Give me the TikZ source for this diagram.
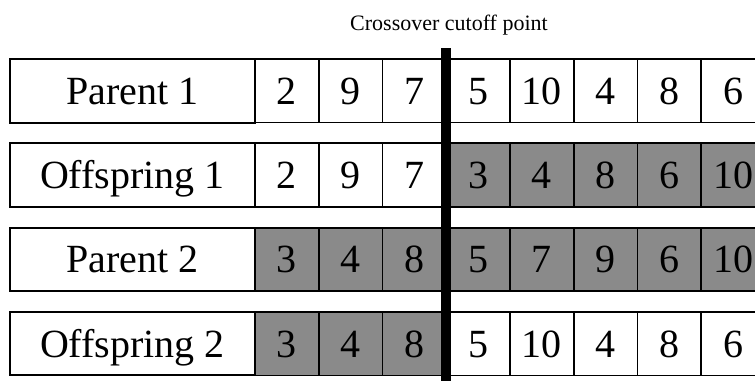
\documentclass[tikz,border=0pt]{standalone}
\usepackage{fontspec}
\setmainfont{Liberation Serif}
\newfontfamily\timesfont{Liberation Serif}
\definecolor{cellgray}{RGB}{138,138,138}
\tikzset{
  labelbox/.style={draw=black, line width=2pt, minimum width=245pt, minimum height=63.5pt,
    inner sep=0pt, text height=27pt, text depth=0pt, font=\timesfont\fontsize{40}{48}\selectfont},
  genecell/.style={draw=black, line width=1.8pt, minimum width=63.75pt, minimum height=63.5pt,
    inner sep=0pt, text height=27pt, text depth=0pt, font=\timesfont\fontsize{40}{48}\selectfont},
  shaded/.style={genecell, fill=cellgray},
  plain/.style={genecell, fill=white},
  cutline/.style={line width=10pt, black},
  captiontext/.style={font=\timesfont\fontsize{22}{26}\selectfont, inner sep=0pt, anchor=base}
}
\begin{document}
\begin{tikzpicture}[x=1pt,y=-1pt]
\useasboundingbox (0,0) rectangle (755,381);
\clip (0,0) rectangle (755,381);
\fill[white] (0,0) rectangle (755,381);
\node[captiontext] (caption) at (449,30.5) {Crossover cutoff point};
\foreach \r/\lab/\vals/\shade [count=\k] in {
  0/{Parent 1}/{2,9,7,5,10,4,8,6}/{0,0,0,0,0,0,0,0},
  1/{Offspring 1}/{2,9,7,3,4,8,6,10}/{0,0,0,1,1,1,1,1},
  2/{Parent 2}/{3,4,8,5,7,9,6,10}/{1,1,1,1,1,1,1,1},
  3/{Offspring 2}/{3,4,8,5,10,4,8,6}/{1,1,1,0,0,0,0,0}}{
  \pgfmathsetmacro{\yc}{90.75+84.33*\r}
  \node[labelbox] (lab\k) at (132.5,\yc) {\lab};
  \foreach \v [count=\i] in \vals {
    \pgfmathsetmacro{\xc}{255+63.75*(\i-0.5)}
    \pgfmathsetmacro{\s}{{\shade}[\i-1]}
    \ifnum\s=1
      \node[shaded] (c\k-\i) at (\xc,\yc) {\v};
    \else
      \node[plain] (c\k-\i) at (\xc,\yc) {\v};
    \fi
  }
}
\coordinate (cuttop) at (445.5,48);
\coordinate (cutbot) at (445.5,381);
\draw[cutline] (cuttop) -- (cutbot);
\end{tikzpicture}
\end{document}
